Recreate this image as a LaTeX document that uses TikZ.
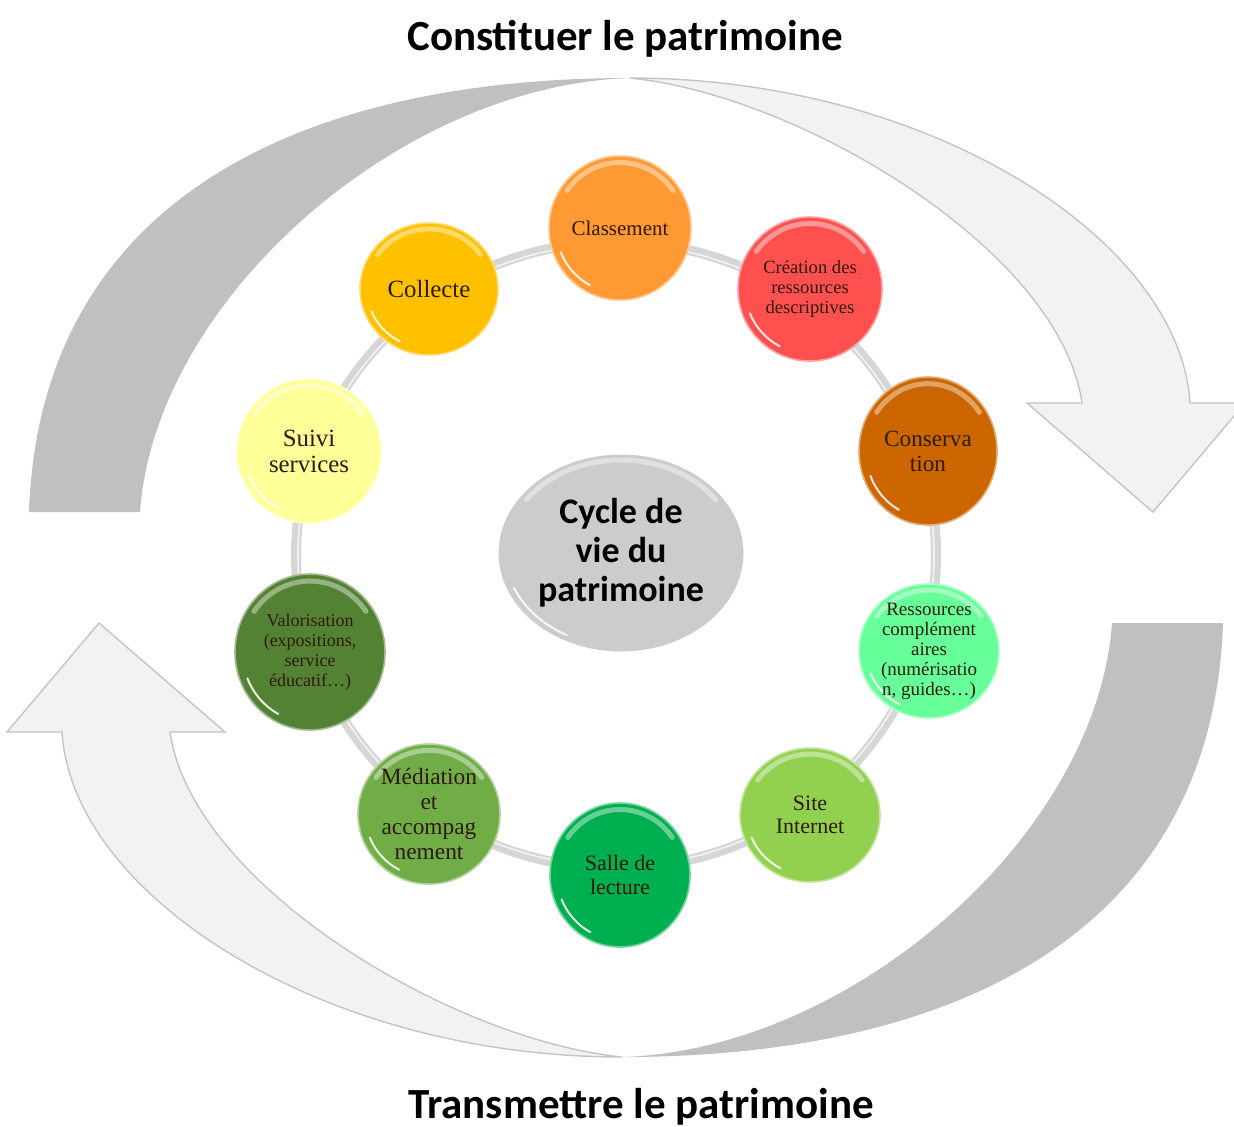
\documentclass[tikz,border=0pt]{standalone}
\usepackage{fontspec}
\setmainfont{Liberation Serif}
\newfontfamily\carl{Carlito}
\usetikzlibrary{shapes.geometric,fadings}
\definecolor{arrdark}{HTML}{C0C0C0}
\definecolor{arrlight}{HTML}{F2F2F2}
\definecolor{arrline}{HTML}{C4C4C4}
\definecolor{ringcol}{HTML}{D6D6D6}
\definecolor{txt}{HTML}{2E1A0C}
\definecolor{cClass}{HTML}{FF9933}
\definecolor{cCrea}{HTML}{FF5050}
\definecolor{cCons}{HTML}{CC6600}
\definecolor{cRess}{HTML}{66FF99}
\definecolor{cSite}{HTML}{92D050}
\definecolor{cSalle}{HTML}{00B050}
\definecolor{cMed}{HTML}{70AD47}
\definecolor{cValo}{HTML}{548235}
\definecolor{cSuivi}{HTML}{FFFF99}
\definecolor{cColl}{HTML}{FFC000}
\definecolor{cCenter}{HTML}{CCCCCC}
\tikzset{
  bubnode/.style={ellipse, inner sep=0pt, align=center, text=txt},
  titletext/.style={font=\carl\bfseries\fontsize{21.5}{24}\selectfont, anchor=base},
  arrowdark/.style={fill=arrdark},
  arrowlight/.style={fill=arrlight, draw=arrline, line width=0.7pt, line join=miter},
  shine/.style={white, opacity=0.4, line width=2.5pt, line cap=round},
  glint/.style={white, opacity=0.85, line width=1pt, line cap=round},
}
% #1 name #2 x #3 y #4 rx #5 ry #6 colour #7 font size #8 baselineskip #9 text
\newcommand\bub[9]{%
  \fill[#6] (#2,#3) ellipse [x radius=#4, y radius=#5];
  \draw[shine]
    (#2,#3) ++({0.91*#4*cos(215)},{0.91*#5*sin(215)})
    arc[start angle=215, end angle=325, x radius={0.91*#4}, y radius={0.91*#5}];
  \draw[glint]
    (#2,#3) ++({0.9*#4*cos(118)},{0.9*#5*sin(118)})
    arc[start angle=118, end angle=158, x radius={0.9*#4}, y radius={0.9*#5}];
  \draw[#6!55!white, line width=0.8pt] (#2,#3) ellipse [x radius=#4, y radius=#5];
  \node[bubnode, minimum width=#4 pt, minimum height=#5 pt,
        font=\fontsize{#7}{#8}\selectfont] (#1) at (#2,#3) {#9};
}
\newcommand\bigarrow{%
  \path[arrowdark] (29,512) .. controls (40,200) and (300,78) .. (630,78)
     .. controls (400,85) and (155,300) .. (140,512) -- cycle;
  \path[arrowlight] (630,78) .. controls (930,78) and (1180,240) .. (1190,403)
     -- (1245,403) -- (1153,512) -- (1027,403) -- (1082,403)
     .. controls (1060,250) and (800,95) .. (630,78) -- cycle;
}
\begin{document}
\begin{tikzpicture}[x=0.5pt,y=-0.5pt]
\useasboundingbox (0,0) rectangle (1234,1126);
\fill[white] (0,0) rectangle (1234,1126);
% big circular arrows
\bigarrow
\begin{scope}[rotate around={180:(626,567.5)}]
  \bigarrow
\end{scope}
% titles
\node[titletext] (t1) at (625,50) {Constituer le patrimoine};
\node[titletext] (t2) at (641,1118) {Transmettre le patrimoine};
% ring
\draw[ringcol, line width=5pt] (616,555) ellipse [x radius=320, y radius=313];
\draw[white, opacity=0.7, line width=0.8pt] (616,555) ellipse [x radius=318, y radius=311];
% centre
\fill[cCenter] (621,553) ellipse [x radius=124, y radius=100];
\draw[shine] (621,553) ++({0.93*124*cos(215)},{0.93*100*sin(215)})
    arc[start angle=215, end angle=325, x radius={0.93*124}, y radius={0.93*100}];
\draw[glint] (621,553) ++({0.93*124*cos(118)},{0.93*100*sin(118)})
    arc[start angle=118, end angle=158, x radius={0.93*124}, y radius={0.93*100}];
\draw[white, line width=1.5pt] (621,553) ellipse [x radius=124, y radius=100];
\node[bubnode, text=black, minimum width=124pt, minimum height=100pt,
      font=\carl\bfseries\fontsize{18}{19.5}\selectfont] (centre) at (621,553)
      {Cycle de\\vie du\\patrimoine};
% bubbles
\bub{classement}{620}{228}{71}{72}{cClass}{10.5}{12}{Classement}
\bub{creation}{810}{289}{72}{72}{cCrea}{9.3}{10.25}{Création des\\ressources\\descriptives}
\bub{conservation}{928}{451}{69}{74}{cCons}{11.6}{12.5}{Conserva\\tion}
\bub{ressources}{929}{651}{70}{67}{cRess}{9.5}{10}{Ressources\\complément\\aires\\(numérisatio\\n, guides…)}
\bub{site}{810}{815}{70}{67}{cSite}{11}{11.5}{Site\\Internet}
\bub{salle}{620}{875}{70}{72}{cSalle}{11}{12}{Salle de\\lecture}
\bub{mediation}{429}{814}{71}{70}{cMed}{11.7}{12.5}{Médiation\\et\\accompag\\nement}
\bub{valorisation}{310}{652}{75}{78}{cValo}{9}{10}{Valorisation\\(expositions,\\service\\éducatif…)}
\bub{suivi}{309}{451}{72}{72}{cSuivi}{12.4}{13}{Suivi\\services}
\bub{collecte}{429}{289}{69}{66}{cColl}{12.4}{13}{Collecte}
\end{tikzpicture}
\end{document}
